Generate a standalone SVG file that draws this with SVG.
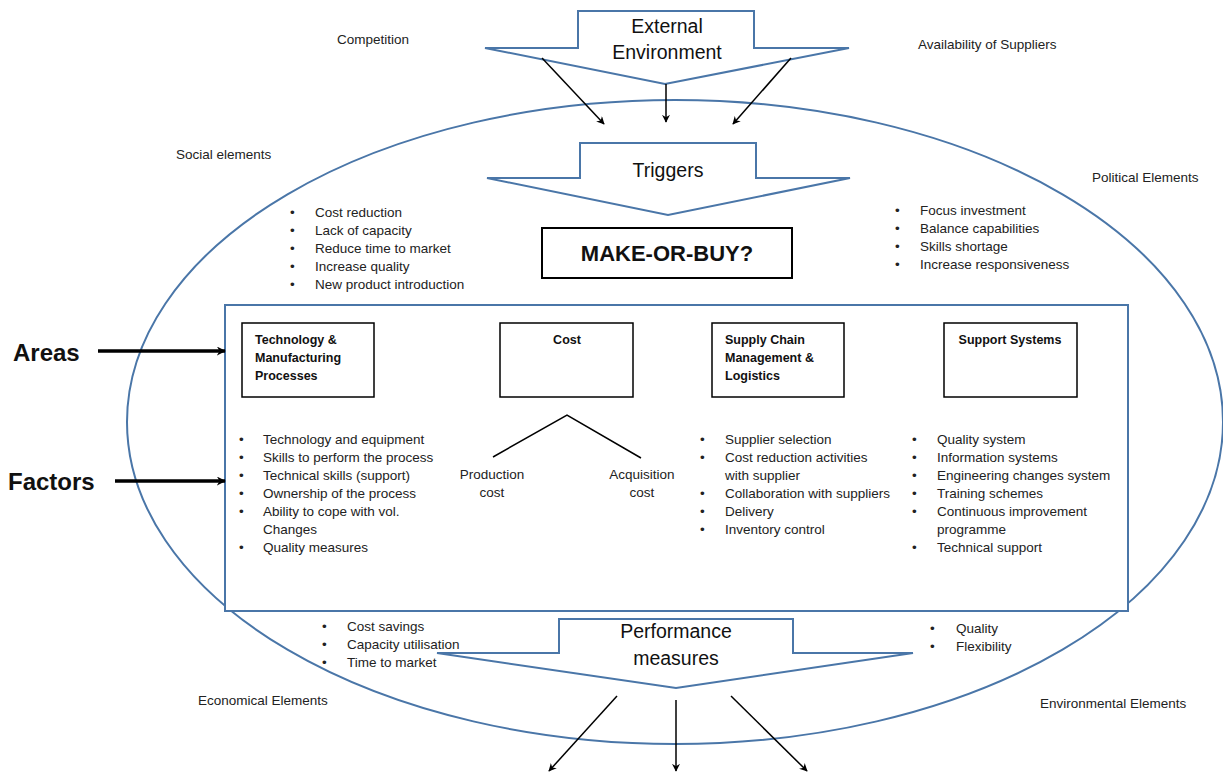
<svg xmlns="http://www.w3.org/2000/svg" width="1223" height="773" viewBox="0 0 1223 773">
  <style>
    .blue { fill: #ffffff; stroke: #4a76a8; stroke-width: 2; }
    .box { fill: #ffffff; stroke: #000000; stroke-width: 1.5; }
    .t { font-family: "Liberation Sans", Arial, sans-serif; font-size: 13.5px; fill: #222222; }
    .b { font-family: "Liberation Sans", Arial, sans-serif; font-size: 12.5px; font-weight: bold; fill: #111111; }
    .big { font-family: "Liberation Sans", Arial, sans-serif; font-size: 19.5px; fill: #111111; text-anchor: middle; }
    .head { font-family: "Liberation Sans", Arial, sans-serif; font-size: 24px; font-weight: bold; fill: #111111; }
    .arrow { stroke: #000000; stroke-width: 1.5; fill: none; marker-end: url(#ah); }
    .thick { stroke: #000000; stroke-width: 3.5; fill: none; marker-end: url(#ahb); }
  </style>
  <defs>
    <marker id="ah" viewBox="0 0 10 10" refX="9" refY="5" markerWidth="8" markerHeight="8" orient="auto" markerUnits="userSpaceOnUse">
      <path d="M0,0 L10,5 L0,10 L3,5 Z" fill="#000000"/>
    </marker>
    <marker id="ahb" viewBox="0 0 10 10" refX="9" refY="5" markerWidth="9" markerHeight="9" orient="auto" markerUnits="userSpaceOnUse">
      <path d="M0,0 L10,5 L0,10 L3,5 Z" fill="#000000"/>
    </marker>
  </defs>

  <rect width="1223" height="773" fill="#ffffff"/>

  <!-- outer environment ellipse -->
  <g id="environment">
    <ellipse cx="675" cy="422" rx="548" ry="322" fill="none" stroke="#4a76a8" stroke-width="2"/>
  </g>

  <!-- environment labels -->
  <g id="env-labels">
    <text class="t" x="337" y="44">Competition</text>
    <text class="t" x="918" y="49">Availability of Suppliers</text>
    <text class="t" x="176" y="159">Social elements</text>
    <text class="t" x="1092" y="182">Political Elements</text>
    <text class="t" x="198" y="705">Economical Elements</text>
    <text class="t" x="1040" y="708">Environmental Elements</text>
  </g>

  <!-- External Environment block arrow -->
  <g id="external">
    <polygon class="blue" points="578,11 754,11 754,48 849,48 665,84 485,48 578,48"/>
    <text class="big" x="667" y="33">External</text>
    <text class="big" x="667" y="59">Environment</text>
  </g>

  <!-- Triggers block arrow -->
  <g id="triggers">
    <polygon class="blue" points="580,143 756,143 756,178 850,178 668,215 487,178 580,178"/>
    <text class="big" x="668" y="177">Triggers</text>
  </g>

  <g id="trigger-list-left">
    <text class="t" x="290" y="217">•</text><text class="t" x="315" y="217">Cost reduction</text>
    <text class="t" x="290" y="235">•</text><text class="t" x="315" y="235">Lack of capacity</text>
    <text class="t" x="290" y="253">•</text><text class="t" x="315" y="253">Reduce time to market</text>
    <text class="t" x="290" y="271">•</text><text class="t" x="315" y="271">Increase quality</text>
    <text class="t" x="290" y="289">•</text><text class="t" x="315" y="289">New product introduction</text>
  </g>

  <g id="trigger-list-right">
    <text class="t" x="895" y="215">•</text><text class="t" x="920" y="215">Focus investment</text>
    <text class="t" x="895" y="233">•</text><text class="t" x="920" y="233">Balance capabilities</text>
    <text class="t" x="895" y="251">•</text><text class="t" x="920" y="251">Skills shortage</text>
    <text class="t" x="895" y="269">•</text><text class="t" x="920" y="269">Increase responsiveness</text>
  </g>

  <!-- decision -->
  <g id="make-or-buy">
    <rect x="542" y="228" width="250" height="50" fill="#ffffff" stroke="#000000" stroke-width="2"/>
    <text x="667" y="261" text-anchor="middle" font-family="Liberation Sans, Arial, sans-serif" font-size="22" font-weight="bold" fill="#111111">MAKE-OR-BUY?</text>
  </g>

  <!-- main frame of areas and factors -->
  <g id="frame">
    <rect x="225" y="305" width="903" height="306" fill="#ffffff" stroke="#4a76a8" stroke-width="2"/>
  </g>

  <g id="area-tech">
    <rect class="box" x="242" y="323" width="132" height="74"/>
    <text class="b" x="255" y="344">Technology &amp;</text>
    <text class="b" x="255" y="362">Manufacturing</text>
    <text class="b" x="255" y="380">Processes</text>
  </g>
  <g id="area-cost">
    <rect class="box" x="500" y="323" width="133" height="74"/>
    <text class="b" x="567" y="344" text-anchor="middle">Cost</text>
  </g>
  <g id="area-supply">
    <rect class="box" x="712" y="323" width="132" height="74"/>
    <text class="b" x="725" y="344">Supply Chain</text>
    <text class="b" x="725" y="362">Management &amp;</text>
    <text class="b" x="725" y="380">Logistics</text>
  </g>
  <g id="area-support">
    <rect class="box" x="944" y="323" width="133" height="74"/>
    <text class="b" x="1010" y="344" text-anchor="middle">Support Systems</text>
  </g>

  <!-- cost split -->
  <g id="cost-split">
    <polyline points="493,457 567,415 641,458" fill="none" stroke="#000000" stroke-width="1.5"/>
    <text class="t" x="492" y="479" text-anchor="middle">Production</text>
    <text class="t" x="492" y="497" text-anchor="middle">cost</text>
    <text class="t" x="642" y="479" text-anchor="middle">Acquisition</text>
    <text class="t" x="642" y="497" text-anchor="middle">cost</text>
  </g>

  <g id="factors-tech">
    <text class="t" x="239" y="444">•</text><text class="t" x="263" y="444">Technology and equipment</text>
    <text class="t" x="239" y="462">•</text><text class="t" x="263" y="462">Skills to perform the process</text>
    <text class="t" x="239" y="480">•</text><text class="t" x="263" y="480">Technical skills (support)</text>
    <text class="t" x="239" y="498">•</text><text class="t" x="263" y="498">Ownership of the process</text>
    <text class="t" x="239" y="516">•</text><text class="t" x="263" y="516">Ability to cope with vol.</text>
    <text class="t" x="263" y="534">Changes</text>
    <text class="t" x="239" y="552">•</text><text class="t" x="263" y="552">Quality measures</text>
  </g>

  <g id="factors-supply">
    <text class="t" x="700" y="444">•</text><text class="t" x="725" y="444">Supplier selection</text>
    <text class="t" x="700" y="462">•</text><text class="t" x="725" y="462">Cost reduction activities</text>
    <text class="t" x="725" y="480">with supplier</text>
    <text class="t" x="700" y="498">•</text><text class="t" x="725" y="498">Collaboration with suppliers</text>
    <text class="t" x="700" y="516">•</text><text class="t" x="725" y="516">Delivery</text>
    <text class="t" x="700" y="534">•</text><text class="t" x="725" y="534">Inventory control</text>
  </g>

  <g id="factors-support">
    <text class="t" x="912" y="444">•</text><text class="t" x="937" y="444">Quality system</text>
    <text class="t" x="912" y="462">•</text><text class="t" x="937" y="462">Information systems</text>
    <text class="t" x="912" y="480">•</text><text class="t" x="937" y="480">Engineering changes system</text>
    <text class="t" x="912" y="498">•</text><text class="t" x="937" y="498">Training schemes</text>
    <text class="t" x="912" y="516">•</text><text class="t" x="937" y="516">Continuous improvement</text>
    <text class="t" x="937" y="534">programme</text>
    <text class="t" x="912" y="552">•</text><text class="t" x="937" y="552">Technical support</text>
  </g>

  <!-- Performance measures block arrow -->
  <g id="performance">
    <polygon class="blue" points="559,619 793,619 793,653 913,653 676,688 437,653 559,653"/>
    <text class="big" x="676" y="638">Performance</text>
    <text class="big" x="676" y="665">measures</text>
  </g>

  <g id="performance-list-left">
    <text class="t" x="322" y="631">•</text><text class="t" x="347" y="631">Cost savings</text>
    <text class="t" x="322" y="649">•</text><text class="t" x="347" y="649">Capacity utilisation</text>
    <text class="t" x="322" y="667">•</text><text class="t" x="347" y="667">Time to market</text>
  </g>
  <g id="performance-list-right">
    <text class="t" x="930" y="633">•</text><text class="t" x="956" y="633">Quality</text>
    <text class="t" x="930" y="651">•</text><text class="t" x="956" y="651">Flexibility</text>
  </g>

  <!-- side labels -->
  <g id="label-areas">
    <text class="head" x="13" y="361">Areas</text>
  </g>
  <g id="label-factors">
    <text class="head" x="8" y="490">Factors</text>
  </g>

  <!-- connectors -->
  <g id="connectors">
    <line class="arrow" x1="542" y1="58" x2="604" y2="124"/>
    <line class="arrow" x1="666" y1="84" x2="666" y2="122"/>
    <line class="arrow" x1="791" y1="58" x2="733" y2="124"/>
    <line class="thick" x1="98" y1="351" x2="225" y2="351"/>
    <line class="thick" x1="115" y1="481" x2="225" y2="481"/>
    <line class="arrow" x1="617" y1="696" x2="549" y2="771"/>
    <line class="arrow" x1="676" y1="700" x2="676" y2="771"/>
    <line class="arrow" x1="731" y1="696" x2="807" y2="771"/>
  </g>
</svg>
